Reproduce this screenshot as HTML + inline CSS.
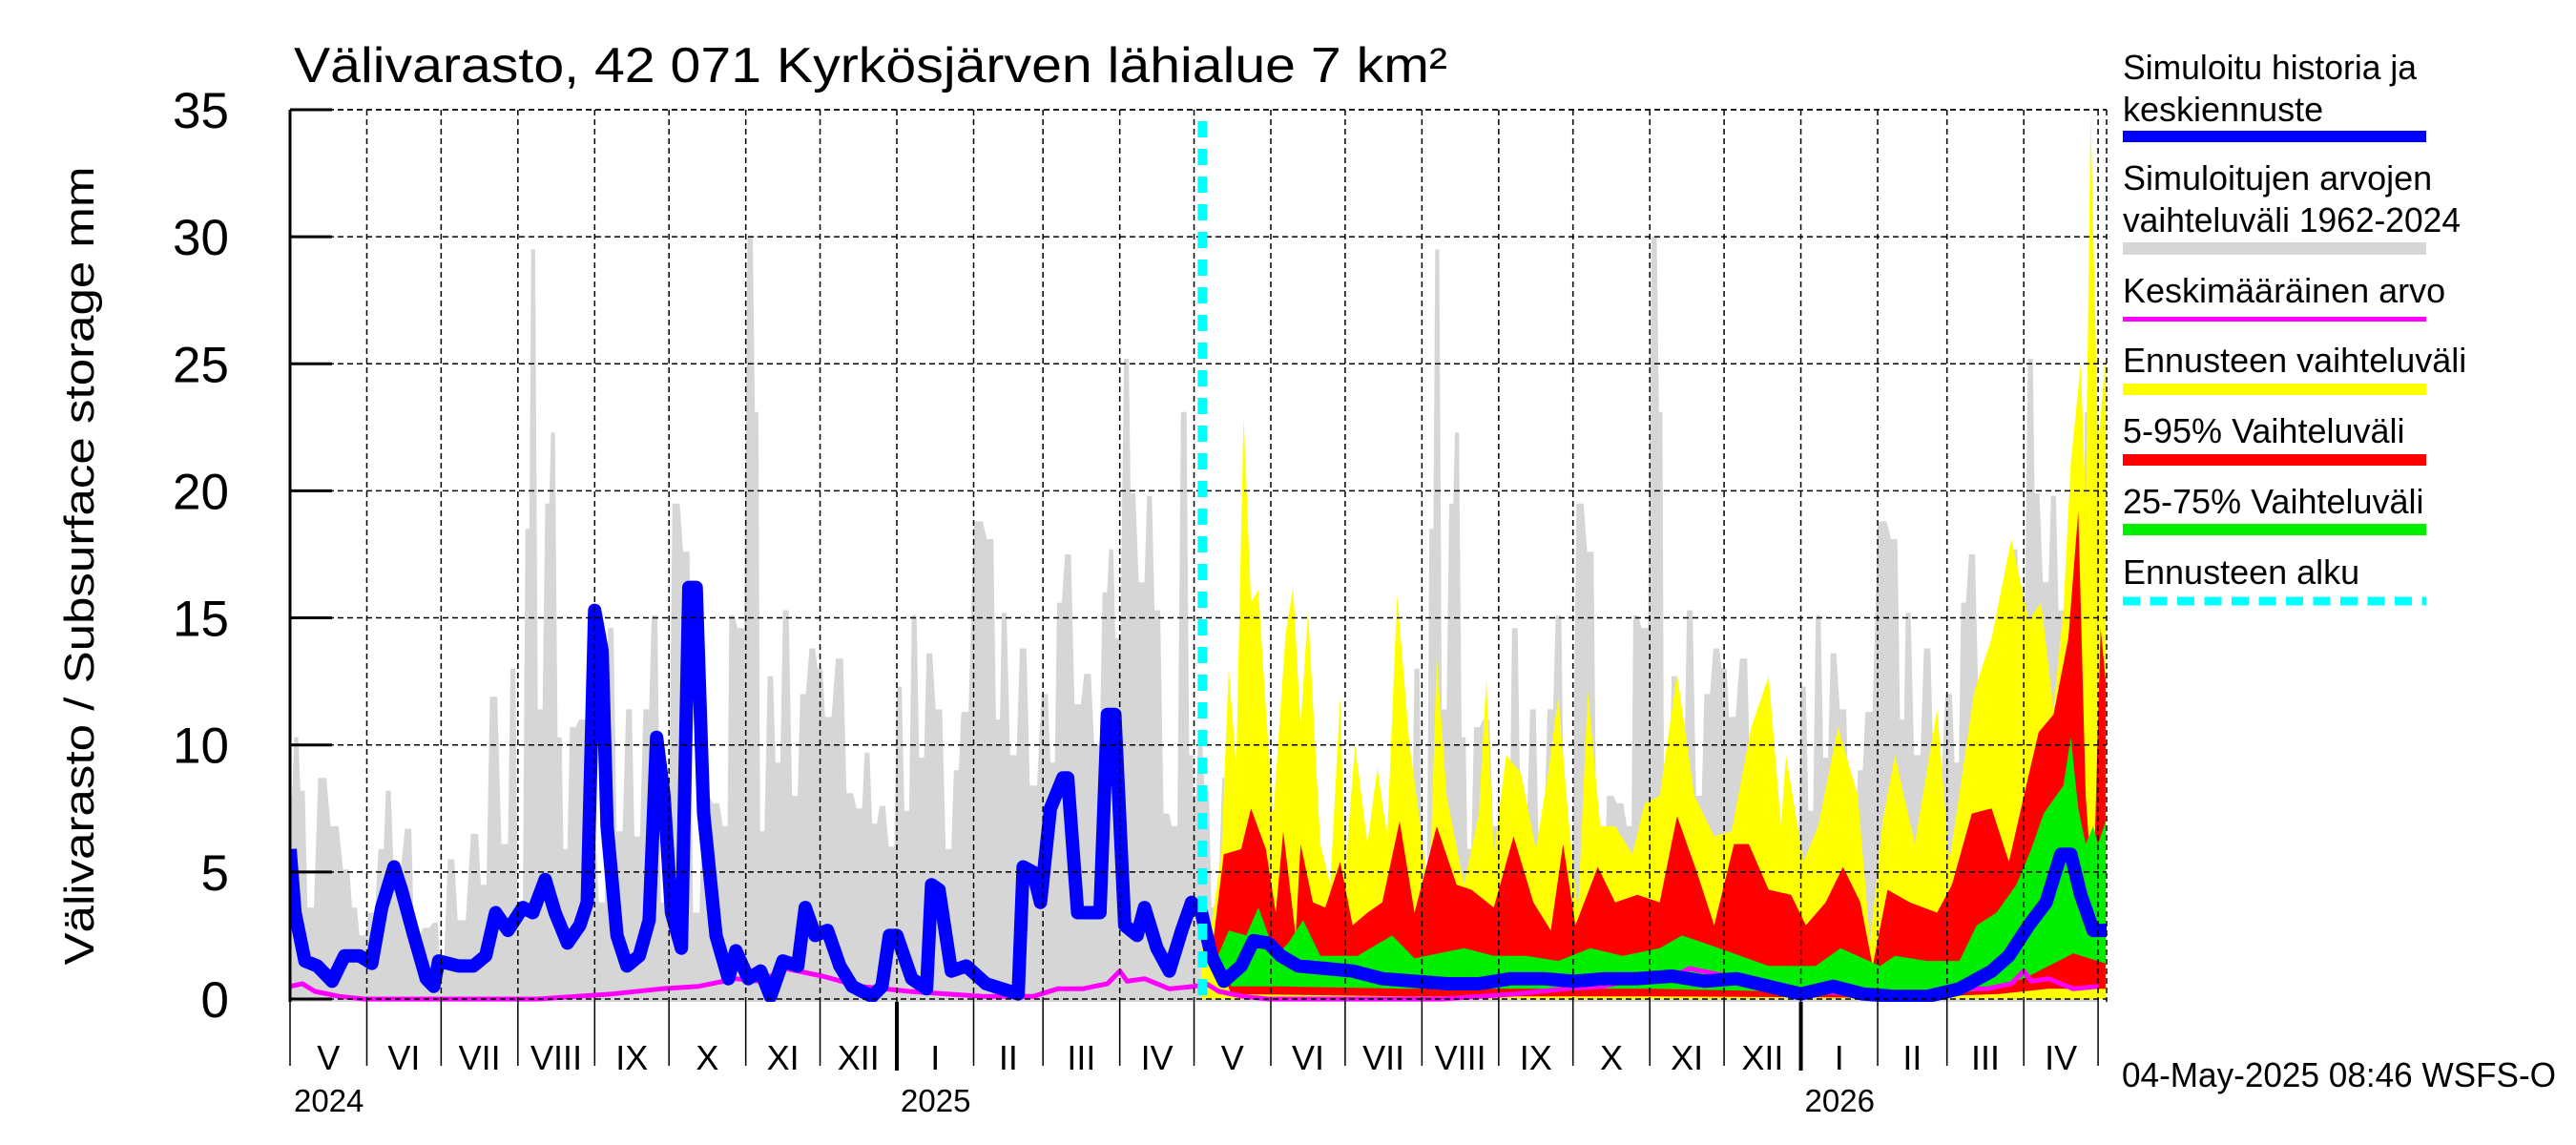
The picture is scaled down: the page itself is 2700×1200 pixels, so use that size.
<!DOCTYPE html>
<html><head><meta charset="utf-8"><title>Välivarasto chart</title>
<style>html,body{margin:0;padding:0;background:#fff;}svg{display:block;font-family:"Liberation Sans",Arial,sans-serif;}</style>
</head><body>
<svg id="chart" xmlns="http://www.w3.org/2000/svg" width="2700" height="1200" viewBox="0 0 2700 1200">
<defs><clipPath id="plotclip"><rect x="304" y="115" width="1904" height="935"/></clipPath></defs>
<rect x="0" y="0" width="2700" height="1200" fill="#fff"/>
<text x="308" y="86" font-size="52" textLength="1209" lengthAdjust="spacingAndGlyphs">Välivarasto, 42 071 Kyrkösjärven lähialue 7 km²</text>
<text transform="translate(98,593) rotate(-90)" text-anchor="middle" font-size="44" textLength="837" lengthAdjust="spacingAndGlyphs">Välivarasto / Subsurface storage  mm</text>
<g id="series" clip-path="url(#plotclip)"></g>
<g id="grid"></g>
<g id="axes"></g>
<g id="legend">
 <g>
  <text x="2225" y="83" font-size="36" textLength="308" lengthAdjust="spacingAndGlyphs">Simuloitu historia ja</text>
  <text x="2225" y="127" font-size="36">keskiennuste</text>
  <rect x="2225" y="137" width="318" height="12" fill="#0000ff"/>
 </g>
 <g>
  <text x="2225" y="199" font-size="36">Simuloitujen arvojen</text>
  <text x="2225" y="243" font-size="36" textLength="354" lengthAdjust="spacingAndGlyphs">vaihteluväli 1962-2024</text>
  <rect x="2225" y="254" width="318" height="13" fill="#d6d6d6"/>
 </g>
 <g>
  <text x="2225" y="317" font-size="36">Keskimääräinen arvo</text>
  <rect x="2225" y="332" width="318" height="5" fill="#ff00ff"/>
 </g>
 <g>
  <text x="2225" y="390" font-size="36">Ennusteen vaihteluväli</text>
  <rect x="2225" y="402" width="318" height="12" fill="#ffff00"/>
 </g>
 <g>
  <text x="2225" y="464" font-size="36">5-95% Vaihteluväli</text>
  <rect x="2225" y="476" width="318" height="12" fill="#ff0000"/>
 </g>
 <g>
  <text x="2225" y="538" font-size="36">25-75% Vaihteluväli</text>
  <rect x="2225" y="549" width="318" height="12" fill="#00ee00"/>
 </g>
 <g>
  <text x="2225" y="612" font-size="36">Ennusteen alku</text>
  <line x1="2225" y1="630" x2="2543" y2="630" stroke="#00ffff" stroke-width="9" stroke-dasharray="18,10.5"/>
 </g>
</g>
<text x="2224" y="1139" font-size="36" textLength="455" lengthAdjust="spacingAndGlyphs">04-May-2025 08:46 WSFS-O</text>
</svg>
<script>
// ---- data (day index from 1 May 2024) ----
const grayDays=[0,2.5,5,8,13,18,23,26,29,33,37,39.5,43,48,51,55,59,61,65,69,75,78,82,87,90,93,96,98,101,104,106,109,111,114,118,122,126,129.5,133,137,140,144,147,151,156,160,164,168,172,176,178,182,186,188.5,190.4,194,197,200,204,207,211,214,217,222,226,230,233,236,239,243,246,249,252,255,258,262,266,269,272,278,283,286,288,292,296,300,305,308,310.5,314,318,322,326,329,331.6,334,338,340,344,347,350,354,357,361,364];
const grayMax=[8.0,10.3,8.2,3.6,8.7,6.8,5.1,3.6,2.5,3.4,5.9,8.2,5.0,6.7,2.5,2.8,3.0,1.7,5.5,3.1,6.5,4.5,11.9,6.1,13.0,3.4,18.5,29.5,11.4,19.5,22.3,10.3,5.9,10.7,11.0,6.8,3.8,14.6,6.6,11.4,6.4,11.4,15.1,3.8,19.5,17.6,3.4,8.0,7.7,6.8,15.1,14.6,30.0,23.1,6.6,12.7,9.3,15.3,8.0,12.0,13.8,13.0,11.1,13.4,8.1,7.5,9.7,6.9,7.6,6.0,12.3,7.4,15.1,9.5,13.6,11.4,5.9,9.0,11.3,18.8,18.1,11.0,15.2,9.6,13.8,8.4,12.0,9.3,15.6,17.5,11.6,12.8,10.0,16.0,17.7,14.2,25.2,19.9,16.4,19.8,15.3,7.3,6.8,23.1,9.6];
const blueDays=[0,2,6,11,17,22,28,33,37,42,45,50,55,58,60,68,74,79,83,88,94,98,103,107,112,117,120,123,126,128,132,136,141,145,148,151,154,158,161,164,167,172,177,180,185,190,194,199,205,208,212,217,222,227,235,239,242,245,251,257,259,262,267,273,281,294,296,300,303,307,312,314,318,322,327,330,333,337,342,345,350,355,360,364,368,372,377,384,389,395,400,407,418,429,441,454,467,480,493,506,518,531,544,558,571,584,597,610,623,635,648,661,674,687,694,702,709,715,719,723,728,734];
const blueVals=[5.9,3.4,1.5,1.3,0.7,1.7,1.7,1.4,3.6,5.2,4.3,2.5,0.8,0.5,1.5,1.3,1.3,1.7,3.4,2.7,3.6,3.4,4.7,3.4,2.2,2.9,3.8,15.3,13.7,6.8,2.5,1.3,1.7,3.1,10.3,8.0,3.4,2.0,16.2,16.2,7.3,2.5,0.8,1.9,0.8,1.1,0.1,1.5,1.3,3.6,2.5,2.7,1.3,0.5,0.1,0.5,2.5,2.5,0.8,0.4,4.5,4.3,1.1,1.3,0.6,0.2,5.2,5.0,3.8,7.5,8.7,8.7,3.4,3.4,3.4,11.2,11.2,2.9,2.5,3.6,2.0,1.1,2.7,3.8,3.4,1.7,0.7,1.3,2.3,2.2,1.7,1.3,1.2,1.1,0.8,0.7,0.6,0.6,0.8,0.8,0.7,0.8,0.8,0.9,0.7,0.8,0.5,0.2,0.5,0.2,0.1,0.1,0.4,1.1,1.7,2.9,3.8,5.7,5.7,4.1,2.7,2.7];
const meanDays=[0,5,10,20,30,60,100,130,150,165,180,190,200,215,230,250,280,300,310,320,330,335,338,345,355,365];
const meanVals=[0.5,0.6,0.3,0.1,0.0,0.0,0.0,0.2,0.4,0.5,0.8,0.7,1.2,0.9,0.5,0.3,0.1,0.1,0.4,0.4,0.6,1.1,0.7,0.8,0.4,0.5];
const yelDays=[368,372,376,379,382,385,388,391,394,397,402,405,408,411,416,420,424,426,430,435,439,443,447,452,457,460,463,467,474,480,483,486,491,497,503,508,512,516,520,524,529,535,542,547,553,560,567,575,582,590,597,602,604,611,617,625,633,638,643,648,656,665,670,680,687,695,702,707,712,716,719,723,725,727,730,733];
const yelTop=[3.5,2.9,5.7,13.0,9.1,23.0,15.6,16.1,11.4,7.3,14.4,16.2,10.7,15.3,6.1,4.5,11.9,5.0,10.0,6.1,9.1,6.4,15.9,10.0,6.4,3.8,13.5,8.0,4.5,7.3,12.6,5.7,9.6,8.9,5.9,8.9,11.9,7.3,3.4,12.1,6.8,6.8,5.7,7.7,8.0,12.8,8.0,6.4,6.6,10.7,12.7,6.8,9.6,5.4,6.8,10.7,8.0,2.2,7.0,9.6,6.1,11.4,5.4,12.1,14.2,18.1,14.9,15.6,11.4,15.3,21.1,25.0,19.5,34.8,21.8,25.2];
const yelBotDays=[368,733];
const yelBot=[0,0];
const redDays=[368,372,377,384,388,394,398,401,406,408,413,418,424,429,435,441,448,454,463,471,477,486,494,502,509,514,519,528,535,544,553,560,568,575,583,589,597,606,612,620,627,634,639,645,654,665,671,679,687,694,701,706,712,718,722,725,728,731,733];
const redTop=[3.4,1.7,5.7,5.9,7.5,5.9,3.4,6.6,2.5,6.1,3.8,3.6,5.4,2.9,3.4,3.8,7.0,3.4,6.8,4.5,4.3,3.6,6.4,3.8,2.7,6.1,2.9,5.2,3.8,4.1,3.8,7.2,5.0,2.9,6.1,6.1,4.3,4.1,2.9,3.8,5.2,3.8,1.3,4.3,3.8,3.4,4.5,7.3,7.5,5.4,8.4,10.5,11.2,14.2,19.2,8.0,3.8,14.6,12.6];
const redBotDays=[368,380,450,550,650,690,710,733];
const redBot=[3.1,0.2,0.1,0.1,0.05,0.2,0.4,0.4];
const grnDays=[368,372,379,386,391,398,403,409,416,424,431,445,454,474,486,499,512,525,538,553,562,577,597,616,626,642,648,661,674,681,689,697,703,708,716,719,722,725,728,730,733];
const grnTop=[3.3,1.1,2.7,2.5,3.6,1.7,2.2,3.1,1.7,1.7,1.7,2.5,1.6,2.0,1.7,1.7,1.5,2.0,1.7,2.0,2.5,2.0,1.3,1.3,2.0,1.3,1.7,1.5,1.5,2.9,3.4,4.5,5.9,7.3,8.4,10.3,7.5,6.1,6.8,6.1,7.0];
const grnBotDays=[368,380,400,450,500,550,600,650,680,700,710,720,733];
const grnBot=[3.2,0.5,0.5,0.4,0.4,0.4,0.3,0.2,0.3,0.8,1.3,1.8,1.4];
const yTicks=[0,5,10,15,20,25,30,35];
const monthDays=[0,31,61,92,123,153,184,214,245,276,304,335,365,396,426,457,488,518,549,579,610,641,669,700,730];
const monthLabels=["V","VI","VII","VIII","IX","X","XI","XII","I","II","III","IV","V","VI","VII","VIII","IX","X","XI","XII","I","II","III","IV"];
const yearDays=[245,610];
const yearLabels=[{t:"2024",d:0},{t:"2025",d:245},{t:"2026",d:610}];
const forecastStartDay=368;

// ---- axes ----
const X0=304,PX=2.596,Y0=1047,PY=26.63,TOP=115,BOT=1050,RIGHT=2208;
const xs=d=>X0+d*PX;
const ys=v=>Y0-v*PY;
const NS="http://www.w3.org/2000/svg";
function mk(tag,parent,attrs){const e=document.createElementNS(NS,tag);for(const k in attrs)e.setAttribute(k,attrs[k]);parent.appendChild(e);return e;}
const S=document.getElementById('series'),G=document.getElementById('grid'),A=document.getElementById('axes');

function linePts(days,vals,off){return days.map((d,i)=>xs(d+off).toFixed(1)+","+ys(vals[i]).toFixed(1));}
function bandPoly(tD,tV,bD,bV){const t=linePts(tD,tV,0);const b=linePts(bD,bV,0).reverse();return t.concat(b).join(" ");}
// step-shaped profile (value held around each sample, rising in between)
function stepPts(days,vals,off){const out=[];for(let i=0;i<days.length;i++){const d0=(i>0?(days[i-1]+days[i])/2:days[i]-1);const d1=(i<days.length-1?(days[i]+days[i+1])/2:days[i]+1);
const a=d0+(days[i]-d0)*0.35,b=days[i]+(d1-days[i])*0.65;
out.push(xs(a+off).toFixed(1)+","+ys(vals[i]).toFixed(1));out.push(xs(b+off).toFixed(1)+","+ys(vals[i]).toFixed(1));}return out;}

// gray climatology, two years
[0,365].forEach((off,k)=>{
  const pts=stepPts(grayDays,grayMax,off);
  const poly=pts.concat([xs(grayDays[grayDays.length-1]+1+off).toFixed(1)+","+BOT, xs(grayDays[0]-1+off).toFixed(1)+","+BOT]);
  const p=mk('polygon',S,{points:poly.join(" "),fill:"#d6d6d6"});
  
  
});

// forecast bands
const yb=mk('polygon',S,{points:bandPoly(yelDays,yelTop,yelBotDays,yelBot),fill:"#ffff00"});


const rb=mk('polygon',S,{points:bandPoly(redDays,redTop,redBotDays,redBot),fill:"#ff0000"});


const gb=mk('polygon',S,{points:bandPoly(grnDays,grnTop,grnBotDays,grnBot),fill:"#00ee00"});



// mean line (two years)
{const pts=linePts(meanDays,meanVals,0).concat(linePts(meanDays,meanVals,365));
const m=mk('polyline',S,{points:pts.join(" "),fill:"none",stroke:"#ff00ff","stroke-width":5,"stroke-linejoin":"round"});

}
// blue
{const b=mk('polyline',S,{points:linePts(blueDays,blueVals,0).join(" "),fill:"none",stroke:"#0000ff","stroke-width":14,"stroke-linejoin":"round"});

}

// grid
yTicks.forEach(v=>{const l=mk('line',G,{x1:X0,x2:RIGHT,y1:ys(v),y2:ys(v),stroke:"#000","stroke-width":1.5,"stroke-dasharray":"6,4"});

});
{const l=mk('line',G,{x1:X0,x2:RIGHT,y1:TOP,y2:TOP,stroke:"#000","stroke-width":1.5,"stroke-dasharray":"6,4"});

}
monthDays.forEach(d=>{if(d===0)return;const l=mk('line',G,{x1:xs(d),x2:xs(d),y1:TOP,y2:BOT,stroke:"#000","stroke-width":1.5,"stroke-dasharray":"6,4"});

});
{const l=mk('line',G,{x1:RIGHT,x2:RIGHT,y1:TOP,y2:BOT,stroke:"#000","stroke-width":1.5,"stroke-dasharray":"6,4"});

}
{const l=mk('line',G,{x1:xs(forecastStartDay)+1,x2:xs(forecastStartDay)+1,y1:TOP+12,y2:Y0,stroke:"#00ffff","stroke-width":10,"stroke-dasharray":"17,12"});

}

// axes
{const l=mk('line',A,{x1:X0,x2:X0,y1:TOP,y2:BOT,stroke:"#000","stroke-width":3});

}
yTicks.forEach(v=>{const t=mk('line',A,{x1:X0,x2:X0+44,y1:ys(v),y2:ys(v),stroke:"#000","stroke-width":3});


const tx=mk('text',A,{x:240,y:ys(v)+19,"text-anchor":"end","font-size":53});
tx.textContent=String(v);

});
monthDays.forEach(d=>{const big=yearDays.includes(d);const t=mk('line',A,{x1:xs(d),x2:xs(d),y1:BOT,y2:big?1122:1117,stroke:"#000","stroke-width":big?4:1.5});

});
monthLabels.forEach((m,i)=>{const c=(xs(monthDays[i])+xs(monthDays[i+1]))/2;const t=mk('text',A,{x:c,y:1121,"text-anchor":"middle","font-size":36});
t.textContent=m;

});
yearLabels.forEach(y=>{const t=mk('text',A,{x:xs(y.d)+4,y:1165,"font-size":33});
t.textContent=y.t;

});
</script>
</body></html>
